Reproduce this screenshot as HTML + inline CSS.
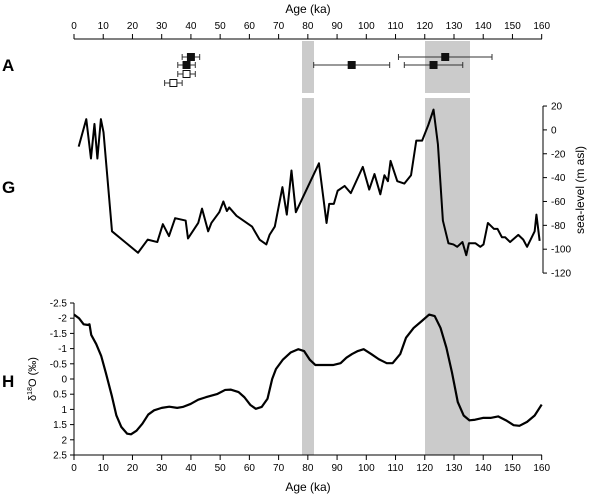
<!DOCTYPE html><html><head><style>body{margin:0;background:#fff}svg{display:block;font-family:"Liberation Sans",sans-serif}</style></head><body>
<svg id="s" width="600" height="500" xmlns="http://www.w3.org/2000/svg">
<rect x="302" y="41" width="12" height="52" fill="#cbcbcb"/>
<rect x="302" y="98" width="12" height="357" fill="#cbcbcb"/>
<rect x="425" y="41" width="45" height="52" fill="#cbcbcb"/>
<rect x="425" y="98" width="45" height="357" fill="#cbcbcb"/>
<text x="308" y="13" font-size="12" text-anchor="middle">Age (ka)</text>
<text x="308" y="491" font-size="12" text-anchor="middle">Age (ka)</text>
<text x="2" y="71" font-size="17" font-weight="bold">A</text>
<text x="2" y="193" font-size="17" font-weight="bold">G</text>
<text x="2" y="387" font-size="17" font-weight="bold">H</text>
<text transform="translate(584,190) rotate(-90)" font-size="12" text-anchor="middle">sea-level (m asl)</text>
<text transform="translate(36,379) rotate(-90)" font-size="11" text-anchor="middle">δ<tspan font-size="7" dy="-4">18</tspan><tspan dy="4">O (‰)</tspan></text>
<g id="g"></g>
</svg>
<script>
var X=a=>74+2.923*a, g=document.getElementById('g'), h='';
h+='<line x1="74" y1="39" x2="542" y2="39" stroke="#000"/>';
h+='<line x1="74" y1="455" x2="542" y2="455" stroke="#000"/>';
for(var a=0;a<=160;a+=10){var x=X(a);h+='<line x1="'+x+'" y1="34" x2="'+x+'" y2="39" stroke="#000"/><text x="'+x+'" y="29" font-size="10" text-anchor="middle">'+a+'</text>';
h+='<line x1="'+x+'" y1="455" x2="'+x+'" y2="460" stroke="#000"/><text x="'+x+'" y="471" font-size="10" text-anchor="middle">'+a+'</text>';}
// A points
[[40,37,43,57,1],[127,111,143,57,1],[38.5,35.5,41.5,65,1],[95,82,108,65,1],[123,113,133,65,1],[38.5,35.5,41.5,74,0],[34,31,37,83,0]].forEach(p=>{var y=p[3];
h+='<line x1="'+X(p[1])+'" y1="'+y+'" x2="'+X(p[2])+'" y2="'+y+'" stroke="#333"/><line x1="'+X(p[1])+'" y1="'+(y-3)+'" x2="'+X(p[1])+'" y2="'+(y+3)+'" stroke="#333"/><line x1="'+X(p[2])+'" y1="'+(y-3)+'" x2="'+X(p[2])+'" y2="'+(y+3)+'" stroke="#333"/>';
h+='<rect x="'+(X(p[0])-3.5)+'" y="'+(y-3.5)+'" width="7" height="7" fill="'+(p[4]?'#111':'#fff')+'" stroke="#111"/>';});
// G axis
var GY=v=>129.9-1.193*v;
h+='<line x1="543" y1="'+GY(20)+'" x2="543" y2="'+GY(-120)+'" stroke="#000"/>';
for(var v=20;v>=-120;v-=20){h+='<line x1="543" y1="'+GY(v)+'" x2="547" y2="'+GY(v)+'" stroke="#000"/><text x="551" y="'+(GY(v)+3.5)+'" font-size="10">'+v+'</text>';}
var G=[[1.6,-14],[4.2,9],[5.8,-24],[7,5],[8,-24],[9.2,9],[10.1,-2],[13,-85],[21.9,-103],[25.2,-92],[28.5,-94],[30.4,-79],[32.5,-89],[34.6,-74],[38.2,-76],[39,-91],[42.5,-78],[43.8,-66],[45.9,-85],[47,-78],[49.7,-69],[51.1,-60],[52.3,-68],[53.1,-65],[55.6,-72],[60.9,-81],[63.5,-92],[65.8,-96],[66.9,-88],[68.7,-81],[71.3,-48],[72.8,-71],[74.4,-34],[75.9,-69],[83.8,-28],[86.4,-78],[87.3,-62],[88.9,-62],[90.2,-51],[92.6,-47],[94.7,-53],[98.8,-31],[101,-50],[102.8,-37],[104.8,-54],[106.2,-38],[107.4,-43],[108.3,-26],[110.6,-43],[113,-45],[115.3,-38],[117.1,-9],[119.1,-9],[121.2,4],[123,17],[124.5,-12],[126.2,-76],[128.1,-95],[129.8,-96],[131.1,-98],[132.9,-94],[134.2,-105],[135.1,-95],[137.3,-95],[139,-98],[140.1,-96],[141.6,-78],[143.7,-83],[144.9,-83],[146.4,-90],[147.5,-90],[149.2,-94],[152,-88],[153.7,-92],[155,-98],[157.6,-85],[158.2,-71],[159.3,-93]];
h+='<polyline fill="none" stroke="#000" stroke-width="2" stroke-linejoin="round" points="'+G.map(p=>X(p[0])+','+GY(p[1])).join(' ')+'"/>';
// H axis
var HY=v=>379+30.4*v;
h+='<line x1="74" y1="'+HY(-2.5)+'" x2="74" y2="455" stroke="#000"/>';
for(var v=-2.5;v<=2.51;v+=0.5){var vv=Math.round(v*10)/10;h+='<line x1="70" y1="'+HY(vv)+'" x2="74" y2="'+HY(vv)+'" stroke="#000"/><text x="67" y="'+(HY(vv)+3.5)+'" font-size="10" text-anchor="end">'+vv+'</text>';}
var H=[[0,-2.12],[1.7,-2.0],[3.3,-1.8],[4.6,-1.78],[5.3,-1.8],[5.9,-1.45],[7.6,-1.15],[9.3,-0.76],[10.9,-0.2],[12.9,0.54],[14.5,1.2],[16.2,1.58],[18.2,1.8],[19.5,1.82],[21.4,1.7],[23.4,1.47],[25.4,1.17],[27.4,1.03],[30,0.95],[32.6,0.91],[35.3,0.95],[37.2,0.92],[39.9,0.82],[42.5,0.68],[45.1,0.6],[49.1,0.49],[51.7,0.36],[53.7,0.35],[56.3,0.43],[58.3,0.6],[60.3,0.85],[62.2,0.98],[64.2,0.92],[66.2,0.65],[67.8,0],[69.1,-0.33],[71.4,-0.63],[74.1,-0.87],[76.7,-0.98],[78.7,-0.92],[80.7,-0.63],[82.6,-0.46],[85.3,-0.46],[88.6,-0.46],[91.2,-0.52],[93.2,-0.7],[95.1,-0.82],[97.1,-0.92],[99.1,-0.98],[101.7,-0.82],[104.3,-0.65],[107,-0.52],[109,-0.52],[111.6,-0.82],[113.6,-1.36],[116.2,-1.68],[118.9,-1.9],[121.5,-2.12],[123.4,-2.07],[125.4,-1.68],[127.4,-1.03],[129.3,-0.22],[131.3,0.76],[133.3,1.2],[135.3,1.36],[137.2,1.34],[139.9,1.28],[142.5,1.28],[145.1,1.23],[147.8,1.36],[150.4,1.52],[152.4,1.54],[155,1.41],[157.6,1.2],[160,0.84]];
h+='<polyline fill="none" stroke="#000" stroke-width="2.2" stroke-linejoin="round" points="'+H.map(p=>X(p[0])+','+HY(p[1])).join(' ')+'"/>';
g.innerHTML=h;
</script>
</body></html>
